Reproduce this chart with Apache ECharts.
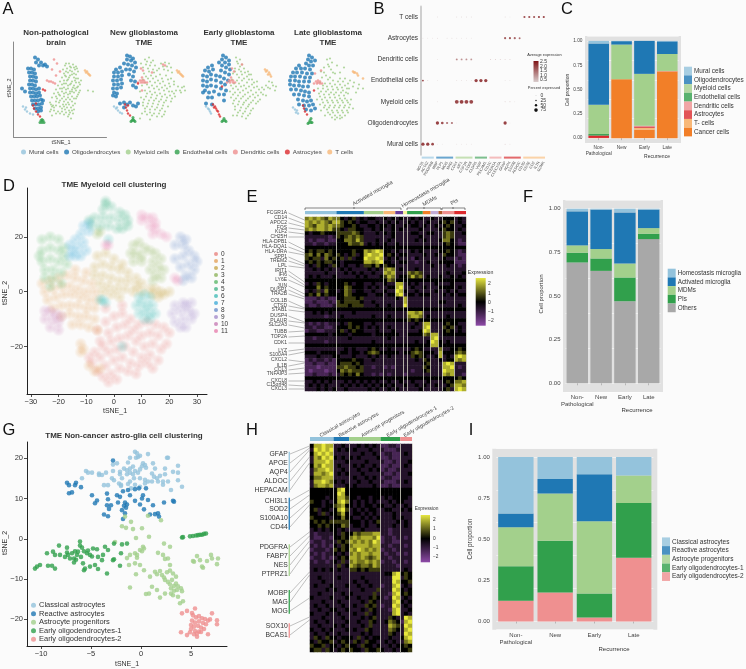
<!DOCTYPE html>
<html lang="en">
<head>
<meta charset="utf-8" />
<title>Glioblastoma TME figure</title>
<script src="https://cdn.jsdelivr.net/npm/echarts@6/dist/echarts.min.js"></script>
<style>body{margin:0;background:#fbfbfb}</style>
</head>
<body>
<div id="main" style="width:746px;height:669px;"></div>
<script>
// ---- panel A, tSNE cells per sample (flat x,y lists)
var cellNames = ['Mural cells','Oligodendrocytes','Myeloid cells','Endothelial cells','Dendritic cells','Astrocytes','T cells'];
var muralNP = [-37,-17,-35,-20,-33,-22,-30,-24,-27,-25,-34,-18];
var oligoNP = [-25,32,-22,30,-19,27,-24,27,-15,25,-13,23,-17,24,-21,24,-32,21,-29,21,-26,20,-31,17,-28,17,-25,16,-30,13,-27,13,-24,12,-30,9,-27,9,-24,8,-31,5,-28,5,-25,4,-30,1,-27,1,-24,0,-21,1,-30,-3,-27,-3,-24,-4,-21,-3,-29,-7,-26,-7,-23,-7,-20,-6,-28,-11,-25,-11,-22,-11,-19,-10,-17,-11,-27,-15,-24,-15,-21,-15,-18,-14,-25,-19,-22,-19,-19,-18,-22,-22,-19,-21,-38,1,-35,-2];
var myeloidNP = [5,24,9,26,13,25,16,23,3,20,7,21,11,22,15,20,18,18,4,16,8,17,12,18,16,15,2,12,6,13,10,14,14,12,18,11,21,9,0,8,4,9,8,10,12,8,16,7,20,5,-2,4,2,5,6,6,10,5,14,4,18,3,-4,0,0,1,4,2,8,1,12,0,16,-1,20,-1,-6,-4,-2,-3,2,-2,6,-3,10,-4,14,-3,18,-5,-8,-8,-4,-7,0,-6,4,-7,8,-8,12,-7,16,-9,-10,-13,-8,-17,-9,-15,-7,-16,-4,-12,0,-11,4,-12,8,-13,12,-12,15,-14,-9,-20,-4,-16,0,-17,4,-17,7,-18,11,-18,14,-20,-10,-22,-6,-21,-2,-22,2,-22,6,-23,10,-23,13,-24,-8,-26,8,-27,11,-29,28,-1,33,-2,
	6,26,10,23,14,22,17,21,6,18,10,19,14,16,5,14,9,12,12,15,16,11,7,9,11,6,15,9,19,7,4,6,8,4,13,2,17,2,2,1,6,0,10,-2,15,1,19,-3,-1,-5,4,-4,8,-5,12,-2,17,-7,-3,-9,2,-9,6,-10,10,-10,14,-9,-1,-13,3,-15,6,-15,9,-15,13,-16,-6,-18,2,-19,5,-20,9,-21,12,-21,-4,-24,0,-24,4,-25,9,-25];
var endoNP = [-18,-30,-20,-33,-18,-33,-16,-33,-19,-31,-17,-31];
var dendNP = [-13,9,-11,8,-9,8,-7,7,-5,6,-6,30,-3,26,-8,20,0,18,-4,14];
var astroNP = [-27,-16,-26,-19,-24,-22,-22,-25,-20,-27,-17,0,-15,-1,-24,-14];
var tNP = [25,19,27,18,28,16,29,15,30,14,26,17];

var muralNew = [-33,-17,-31,-19,-29,-21,-27,-23,-30,-18,-25,-24];
var oligoNew = [-20,34,-17,33,-14,31,-20,30,-16,29,-12,27,-23,26,-19,25,-15,24,-11,22,-27,22,-31,20,-33,17,-29,17,-25,18,-21,20,-17,20,-13,18,-33,13,-29,13,-25,14,-18,15,-14,13,-34,9,-30,9,-26,10,-16,9,-12,8,-33,5,-29,5,-25,6,-14,4,-11,2,-34,1,-30,1,-26,2,-33,-3,-30,-4,-34,-6,-31,-7,-27,-14,-23,-13,-20,-15,-17,-13,-14,-16,-11,-17,-23,-18,-9,-14];
var myeloidNew = [-2,30,2,32,6,29,-6,26,-1,25,3,24,8,24,14,26,18,27,22,26,12,21,17,20,21,19,25,17,-3,16,2,18,7,17,13,15,19,14,24,11,-4,10,1,11,6,11,11,9,16,8,22,6,27,5,31,3,35,2,38,-1,34,-3,29,-1,-5,4,0,5,5,4,10,3,15,2,20,1,25,-2,-7,-2,-2,-1,3,-2,8,-3,13,-4,18,-5,23,-6,28,-7,-6,-8,-1,-7,4,-8,9,-9,14,-10,19,-11,24,-12,-4,-13,1,-14,6,-14,11,-15,16,-16,21,-17,-2,-19,3,-20,8,-20,13,-21,18,-22,-5,-24,0,-25,5,-26,10,-27,15,-27,3,-30,-7,-29,
	0,28,4,27,-4,22,1,21,6,20,10,19,16,23,20,23,24,22,-1,13,4,14,9,13,15,11,21,10,27,8,-2,7,3,8,8,7,13,6,18,4,23,3,33,-1,37,3,2,2,7,1,12,0,17,-1,22,-2,27,-4,0,-4,5,-5,10,-6,15,-7,20,-8,25,-9,-3,-10,2,-11,7,-11,12,-12,17,-13,-4,-16,0,-17,5,-17,10,-18,15,-19,-2,-22,3,-23,7,-24,12,-24,17,-25];
var endoNew = [-14,-28,-15,-31,-13,-31,-12,-32,-16,-32,-14,-30];
var dendNew = [-5,12,-7,9,-5,9,-3,9,-9,7,-6,7,-4,7,-2,7,0,7,-4,19,-6,21,16,25,18,24,5,17,-5,-1];
var astroNew = [-22,-15,-21,-18,-20,-21,-19,-24,-17,-26,-19,-16,-9,6];
var tNew = [30,19,32,18,33,16,35,14,36,13,31,17,34,15];

var muralEarly = [-30,-17,-28,-19,-26,-22,-25,-24,-27,-20];
var oligoEarly = [-13,34,-10,32,-7,29,-14,30,-11,27,-7,25,-17,27,-14,24,-10,22,-6,20,-28,22,-24,24,-31,19,-27,18,-23,20,-15,19,-11,17,-7,15,-33,14,-29,13,-25,15,-20,14,-16,13,-12,11,-8,9,-33,9,-29,8,-25,10,-20,9,-15,7,-11,5,-33,4,-29,3,-25,4,-20,3,-15,1,-10,-1,-31,-1,-27,-3,-22,-2,-17,-5,-12,-5,-28,-8,-24,-8,-33,-3,-12,-11,-24,-15,-30,-14];
var myeloidEarly = [0,32,4,30,2,26,6,25,-1,21,3,20,8,21,12,18,15,15,-3,16,1,15,6,15,11,13,16,10,21,8,-4,10,1,9,6,9,11,7,16,5,21,3,26,2,30,4,33,8,36,7,40,3,34,1,39,-1,-5,4,0,3,5,3,10,1,15,-1,20,-3,25,-3,30,-6,-6,-2,-1,-3,4,-3,9,-5,14,-7,19,-8,24,-10,-5,-8,0,-9,5,-9,10,-11,15,-13,20,-14,-3,-14,2,-15,7,-15,12,-17,17,-19,-1,-20,4,-21,9,-22,14,-24,1,-26,6,-27,-3,-26,10,-29,
	1,28,4,23,5,18,9,17,13,15,-1,18,3,12,8,11,13,10,18,7,-2,6,3,6,8,4,13,3,18,2,23,0,28,0,32,2,37,4,-3,1,2,0,7,-1,12,-3,17,-5,22,-6,27,-5,-3,-5,2,-6,7,-7,12,-9,17,-11,22,-12,-2,-11,3,-12,8,-13,13,-15,-1,-17,5,-18,10,-19,15,-21,2,-23,7,-24,12,-26];
var endoEarly = [-12,-29,-13,-31,-11,-31,-10,-32,-14,-32];
var dendEarly = [-5,12,-7,9,-5,9,-3,9,-9,7,-6,7,-3,7,-1,7,6,25,-2,18,-4,21];
var astroEarly = [-23,-15,-21,-17,-20,-19,-18,-22,-17,-25,-16,-27,-22,-18,-19,-21,-14,3];
var tEarly = [29,20,31,19,33,17,32,15,35,13,30,18,34,15];

var muralLate = [-30,-18,-28,-20,-27,-23,-25,-24,-26,-21];
var oligoLate = [-14,34,-11,32,-15,30,-12,28,-8,29,-17,26,-14,24,-10,24,-24,24,-27,21,-22,21,-18,21,-13,20,-30,17,-26,17,-21,17,-16,16,-11,16,-32,13,-28,13,-23,13,-18,12,-13,12,-33,9,-28,9,-24,8,-19,8,-14,8,-33,5,-29,4,-24,4,-20,3,-15,3,-32,0,-27,0,-22,-1,-18,-2,-14,-3,-29,-5,-24,-5,-19,-6,-14,-7,-25,-10,-20,-11,-16,-12,-12,-11,-24,-15,-19,-16,-14,-16,-10,-15,-17,-20,-12,-21,-8,-19];
var myeloidLate = [4,30,7,31,9,27,5,25,1,22,-2,18,8,20,14,24,17,17,21,22,12,16,3,14,-1,12,7,12,17,11,22,11,27,9,31,7,36,5,40,1,35,1,30,3,-3,7,2,6,7,6,12,5,17,5,22,4,26,1,-5,1,0,1,5,0,10,0,15,0,20,-1,25,-4,33,-3,-4,-4,1,-5,6,-5,11,-5,16,-6,21,-6,-6,-10,-1,-10,4,-11,9,-11,14,-11,19,-11,24,-11,28,-10,-3,-15,2,-16,7,-16,12,-16,17,-16,22,-16,27,-15,-2,-21,4,-20,9,-21,14,-21,19,-21,24,-21,30,-19,2,-26,7,-25,12,-26,17,-26,22,-26,12,-30,17,-29,
	6,23,10,17,1,17,5,10,10,9,15,8,20,8,25,6,0,4,4,3,9,3,14,2,19,2,24,1,-2,-2,3,-2,8,-3,13,-3,18,-3,23,-3,-3,-7,2,-8,7,-8,12,-8,17,-9,22,-9,0,-13,5,-13,10,-13,15,-13,20,-13,25,-13,1,-18,6,-18,11,-18,16,-18,21,-18,26,-18,5,-23,10,-23,15,-23,20,-23,25,-23,9,-28,14,-28,19,-28];
var endoLate = [-13,-31,-14,-33,-12,-33,-11,-33,-15,-34,-12,-29];
var dendLate = [-5,9,-7,8,-5,7,-3,8,-9,6,-6,6,-3,6,-1,6,-8,16,-2,19];
var astroLate = [-20,-16,-19,-19,-18,-22,-16,-25,-9,-1];
var tLate = [30,18,32,17,34,16,35,14,40,11,31,17];

// ---- panel B, dot plot
var dotCells = ['Mural cells','Oligodendrocytes','Myeloid cells','Endothelial cells','Dendritic cells','Astrocytes','T cells'];
var dotGenes = ['RGS5','ACTA2','PDGFRB','MBP','PLP1','MOG','MAG','CD14','AIF1','CSF1R','CD68','CLDN5','VWF','PECAM1','CD1C','FCER1A','CLEC10A','GFAP','AQP4','S100B','ALDOC','CD3D','CD3E','CD2','IL7R','GZMK'];
// gene index, cell index, average expression, percent expressed
var dotStrong = [[21,6,2.3,30],[22,6,2.3,30],[23,6,2.2,30],[24,6,2.5,30],[25,6,2.5,30],[17,5,2.1,30],[18,5,2.2,30],[19,5,2,30],[20,5,1.9,25],[7,4,1.5,25],[8,4,1.4,25],[9,4,1.4,25],[10,4,1.3,25],[0,3,2.4,25],[11,3,2.5,50],[12,3,2.5,50],[13,3,2.5,50],[7,2,2.4,60],[8,2,2.5,60],[9,2,2.4,60],[10,2,2.4,60],[3,1,2.5,50],[4,1,2.3,40],[5,1,1.9,30],[6,1,1.8,30],[17,1,2.5,50],[0,0,2.5,50],[1,0,2.5,50],[2,0,2.4,40]];
var dotFaint = [[3,6,.6,5],[7,6,.7,5],[8,6,.7,5],[9,6,.7,5],[10,6,.7,5],[17,6,.7,5],[18,6,.6,4],[0,5,.6,4],[1,5,.6,4],[2,5,.6,4],[3,5,.8,6],[5,5,.7,6],[6,5,.8,6],[7,5,.6,5],[8,5,.6,5],[9,5,.6,4],[10,5,.6,4],[3,4,.6,5],[14,4,1.1,8],[15,4,1.1,8],[16,4,1,8],[17,4,.9,8],[18,4,.9,8],[1,3,.8,8],[3,3,.6,5],[7,3,.7,6],[8,3,.7,6],[9,3,.7,6],[10,3,.7,6],[17,3,.6,5],[18,3,.6,5],[3,2,.7,6],[17,2,.8,8],[18,2,.8,8],[19,2,.5,4],[18,1,.5,4],[7,1,.5,4],[7,0,.6,4],[8,0,.6,4],[9,0,.6,4],[10,0,.6,4],[17,0,.8,8],[18,0,.6,4],[3,0,.5,4],[4,0,.5,4]];
var dotGroups = [3,4,4,3,3,4,5];
var dotAvgTicks = ['2.5','2.0','1.5','1.0','0.5'];
var dotPctTicks = ['0','25','50','75'];

// ---- panel C
var barCats = ['Non-\nPathological','New','Early','Late'];
var cNames = ['Mural cells','Oligodendrocytes','Myeloid cells','Endothelial cells','Dendritic cells','Astrocytes','T- cells','Cancer cells'];
var cMural = [.027,.003,0,.005];
var cOligo = [.631,.035,.339,.13];
var cMyeloid = [.3,.356,.534,.174];
var cEndo = [.015,0,0,.001];
var cDend = [0,0,.008,.002];
var cAstro = [.025,0,.012,.001];
var cT = [0,0,.02,.002];
var cCancer = [.002,.606,.087,.685];

// ---- panel D, tSNE of myeloid cells
var dClusters = ['0','1','2','3','4','5','6','7','8','9','10','11'];
var d0 = [-6,-14,-3,-11,0,-9,3,-8,6,-10,9,-12,12,-11,15,-12,18,-13,20,-15,-5,-18,-2,-15,1,-13,4,-12,7,-14,10,-16,13,-15,16,-16,19,-19,-7,-22,-4,-20,-1,-18,2,-17,5,-16,8,-18,11,-20,14,-19,17,-21,-8,-26,-5,-24,-2,-22,1,-21,4,-20,7,-22,10,-24,13,-23,16,-25,-6,-29,-3,-27,0,-25,3,-24,6,-26,9,-27,12,-26,14,-28,-4,-31,-1,-30,2,-28,5,-29,8,-30,-2,-33,1,-32,-9,-24,-3,-6,3,-5];
var d1 = [-26,3,-23,4,-20,5,-17,6,-14,5,-11,4,-8,3,-25,0,-22,1,-19,2,-16,2,-13,1,-10,0,-7,0,-24,-3,-21,-2,-18,-1,-15,-1,-12,-2,-9,-3,-6,-3,-22,-6,-19,-5,-16,-5,-13,-5,-10,-6,-7,-6,-19,-9,-16,-8,-13,-9,-10,-9,-7,-10,-15,-12,-12,-12,-9,-13,-6,-14,-12,-19,-12,-22,-11,-21,-7,-29,-9,-27,-5,-28,-14,8,-10,7];
var d2 = [-6,13,-3,14,0,12,3,10,-7,9,-4,10,-1,9,2,8,5,7,8,5,-7,6,-4,6,-1,5,2,4,5,4,8,2,10,3,-5,3,-2,2,1,1,4,1,7,0,10,0,13,1,-4,0,-1,-1,2,-2,15,1,17,0,18,-1,20,0,16,-2,14,-1];
var d3 = [7,17,9,18,11,16,6,14,8,14,10,13,7,11,10,11,13,15,15,14,17,12,14,11,16,9,13,8,15,6,17,5,14,4,-5,22,-6,21,18,8];
var d4 = [-26,19,-23,20,-20,19,-26,15,-23,16,-20,15,-18,13,-26,11,-23,12,-20,11,-17,10,-25,8,-22,8,-19,7,-25,5,-22,5,-19,3,-23,2,-27,13,-18,16];
var d5 = [-3,33,-4,30,-1,31,2,29,4,28,-7,27,-4,27,-1,27,2,26,5,26,-8,24,-5,24,-2,24,1,23,3,23,5,24,-3,32,-9,26];
var d6 = [9,-2,11,-1,13,-2,8,-5,10,-4,12,-5,14,-5,9,-8,11,-7,13,-8,15,-8,11,-10,13,-10,-4,-3,-3,-4,-5,-3,-2,19,3,-20];
var d7 = [-16,17,-14,19,-12,21,-11,24,-15,15,-13,16,-11,18,-14,13,-12,13,-9,25,-16,13,-10,15,-9,22];
var d8 = [24,20,26,19,25,17,22,17,27,15,29,13,25,13,30,11,27,10,24,9,29,8,26,6,28,5,22,12,25,4];
var d9 = [22,-5,25,-4,28,-4,21,-8,24,-7,27,-7,29,-8,22,-11,25,-10,28,-10,24,-13,26,-13,26,-5];
var d10 = [-25,-7,-23,-7,-21,-8,-25,-10,-22,-10,-20,-11,-23,-13,-20,-14,-19,-9];
var d11 = [10,28,12,27,14,27,13,24,15,23,14,21,17,21,19,20,15,25,10,26,-2,17,-3,17,22,5,23,4];

// ---- panel E, expression levels, one digit per cell, 0..8 = -2..2
var eGroups = [8,7,5,3,2,1,4,2,2,1,3,3];
var eRows = [
'67676576 6434534 34433 434 34 3 3434 33 43 3 444 343',
'76767657 7545434 43343 343 43 3 4343 34 33 4 545 343',
'76577676 6544543 34434 434 33 4 3443 43 34 3 454 334',
'67677675 5435544 33434 334 34 3 3334 33 33 4 544 343',
'43445444 5555654 33343 434 33 3 3443 34 43 3 565 334',
'33333323 5456565 33333 334 33 3 3334 33 33 3 565 333',
'32322322 4466575 33343 343 33 3 3343 43 33 4 664 323',
'33233233 4446556 34343 433 43 3 3333 33 33 3 454 322',
'44444444 4444444 44444 444 44 4 4444 44 44 4 444 444',
'45455454 4444544 76787 443 43 3 3434 33 33 4 454 323',
'56464654 5434534 78778 454 34 4 3333 43 34 3 544 322',
'54553645 4535344 87787 343 43 3 3243 33 33 3 433 232',
'45454554 4344444 77678 443 34 4 3323 34 33 4 444 222',
'34354435 4343343 55464 544 33 3 3333 33 43 3 343 323',
'33434343 3434333 34343 676 34 3 3343 33 33 3 333 333',
'33333433 3343434 33433 767 33 3 6565 33 33 3 343 334',
'34343334 3333343 43334 576 34 4 5756 34 33 4 334 343',
'44444444 4444444 44444 465 44 4 4444 44 44 4 444 444',
'34354344 4454344 33433 433 77 3 4343 33 34 3 334 333',
'44464544 4465444 34343 344 78 3 3433 43 33 4 444 343',
'34353644 3465344 33433 433 87 4 3343 33 34 3 343 433',
'45464544 4465444 43344 344 78 3 4434 44 33 3 434 344',
'22232322 4455545 33333 333 43 7 3333 33 33 3 333 333',
'22322232 5455554 33433 333 33 7 3333 33 33 4 433 333',
'32232223 5554555 33343 343 33 8 3333 33 33 3 333 343',
'44444444 4444444 44444 444 44 4 4444 44 44 4 444 444',
'33434343 3333433 33333 333 33 3 7767 33 33 3 333 333',
'33333233 3433333 33433 343 33 3 6776 34 33 3 343 333',
'44444444 4444444 44444 444 44 4 5454 44 44 4 444 444',
'32323233 3435444 33433 333 33 3 3343 77 33 3 454 433',
'33233223 4445454 34343 343 33 3 3433 78 33 3 545 343',
'23322333 4534544 33343 334 33 3 3334 87 33 3 454 343',
'44444434 4443444 44344 444 43 3 4444 65 77 3 444 444',
'33233333 3334333 33333 343 33 3 3333 33 78 3 333 333',
'33333233 3333333 33433 333 33 3 3343 34 87 4 343 333',
'44444444 4444444 44444 444 44 4 4444 44 77 4 444 444',
'33333333 3343433 34543 343 33 3 3454 33 33 6 334 454',
'44434444 3443443 45654 444 43 4 4565 44 43 7 444 565',
'33343334 4333433 34343 343 33 3 3545 43 34 7 343 787',
'23233232 4444544 33433 333 33 3 3343 54 33 4 344 767',
'22322322 4555454 33333 333 33 3 3333 45 33 3 787 333',
'22212222 5565545 33233 232 33 3 3333 54 33 3 778 323',
'21222122 4656555 33333 333 33 3 3233 45 33 3 877 333',
'22322232 3545464 33232 323 33 2 3333 33 33 3 767 332',
'44444444 4444444 44444 444 44 4 4444 44 44 4 444 454',
'33434343 3343434 34343 343 34 3 3433 34 33 3 454 667',
'34343433 3434343 43434 434 33 4 3343 43 34 3 345 776',
'33343434 3343333 34343 343 43 3 3334 33 33 3 453 787'];
var eGeneLabels = [['FCGR1A',38,45],['CD14',43,49],['APOC2',48,52],['FOS',53,55],['KLF2',57,59],['CH25H',62,62],['HLA-DPB1',67,75],['HLA-DQA1',72,78],['HLA-DRA',77,80],['SPP1',82,89],['TREM2',86,91],['LPL',91,93],['IRIT1',96,107],['IFI6',100,110],['LY6E',105,112],['JUN',111,119],['DUSP1',115,122],['TRA2B',119,124],['COL1B',126,133],['CTSD',131,134],['STAB1',135,137],['DUSP4',141,147],['PLAUR',146,148],['SLC2A3',150,153],['TUBB',157,156],['TOP2A',162,161],['CDK1',168,168],['LYZ',176,174],['S100A4',180,177],['CXCL2',185,187],['IL1B',191,188],['CCL3',195,193],['TNFAIP3',199,198],['CXCL8',206,206],['C15orf48',210,211],['CXCL3',214,214]];

// ---- panel F
var fNames = ['Homeostasis microglia','Activated microglia','MDMs','PIs','Others'];
var fHomeo = [.015,.005,.021,.005];
var fActivated = [.195,.226,.293,.106];
var fMDM = [.042,.054,.08,.032];
var fPI = [.056,.071,.136,.031];
var fOthers = [.692,.644,.47,.826];

// ---- panel G, tSNE of non-cancer astro-glia
var gNames = ['Classical astrocytes','Reactive astrocytes','Astrocyte progenitors','Early oligodendrocytes-1','Early oligodendrocytes-2'];
var gClassical = [-.6,21.6,-.4,21.2,-.1,20.6,.7,21,-1.1,20.1,-.3,20.3,-1.3,18.9,-.8,17.9,.2,18.7,.4,18.3,1.2,18.7,2.7,20.1,2.6,20.1,3.7,18.1,2.4,17.4,3.2,16.6,3.7,16.4,3.7,14.5,4.1,12.9,3,12.1,-5.5,16.8,-5.3,16.4,-4.9,16.4,-5.9,15,-4.2,16.2,-3.9,15.8,-3.5,16.4,-4.2,15.8,-2.8,16.8,-2.4,18.7,-1.7,17.4,-2.1,16.6,-2.9,15,-2.7,14.5,-3.7,13.3,-3.3,13.3,-2.2,13.7,-2,13.1,-1.4,16,-1.1,16.4,-.6,16.8,-.3,16.4,-.1,17.2,.5,17.6,-.7,15,-.1,15,.4,14.6,-1.3,13.6,-.6,13.4,-.1,12.9,.4,13.7,1.1,16.2,1.3,15.4,1.6,15,1.7,14.2,2.2,13.4,1.1,14.2,1.4,17.4,1.9,15.6,2.2,14.2,2.7,14.2,2.4,16,.7,14.2,-1.1,14.2,-1.9,15,-2.1,16,-.8,16,-1.4,17,-1.1,17.4,.1,18,-.5,20.1,-2.8,18.4,-2,13.4,-1,12.5];
var gReactive = [-2.8,19.4,-7.4,13.9,-7.2,13.3,-6.5,13.9,-6.6,13.3,-6,12.8,-7.2,11.3,-6.9,11.5,-4.9,10.8,-4.4,9.5,-4.6,8.8,-3.4,11.2,-3.3,9.8,-3.4,8.3,-3,8.3,-3.2,7.4,-3.7,6,-3.3,5.6,-2.3,9,-2.4,10.8,-1.8,11.8,-1.3,12.1,-.6,12.3,-.2,12.5,.5,12.5,-2.1,10.4,-1.1,10.8,-1.6,9,-1.4,8.5,-1.7,8.2,-1.5,7.7,-1.9,7.1,-.6,9.4,-.1,8.5,.2,10.8,.1,10,.7,9.6,1.2,8.3,.3,7.3,.9,6,1.4,6.1,1.7,6.3,1.8,5.5,2.3,9,3.2,9.4,3.3,9.2,-1.6,6.3,-1.8,4.9];
var gProgenitors = [-1.6,5.5,-1,4.2,-1.9,3.1,-1.5,2.7,-.8,2.4,.1,2.6,.7,5.7,2,4.6,.8,.5,-.5,.2,2.3,-1.2,2.9,-2,.2,-2,.3,-2.4,-.1,-2.8,.1,-3.1,-.6,-3.6,-.4,-4,-1.1,-4,-.4,-4.7,-.6,-6.1,-1.2,-6.5,-.1,-6.5,1.7,-3.5,2.2,-4,2.7,-4.9,2.4,-5,-.5,-8.8,-1.1,-12.1,.3,-7.8,.9,-9.4,1.4,-8.2,1.6,-8.8,1.9,-8,2.1,-9,2.3,-9.6,2.6,-8.3,2.9,-7.9,3.2,-8.6,3.5,-9.4,2.4,-10.2,2.7,-10.7,2.9,-11.3,3.1,-10.2,3.3,-11.7,3.5,-11.1,3.7,-11.8,3,-12.3,3.3,-12.9,3.6,-12.7,4,-12.3,4.1,-13,3,-13.6,3.2,-14,.5,-13.7,.8,-13.6,1.1,-11.9,1.6,-12.7,1.9,-14.6,2.4,-13.6,3.7,-14.4,4.2,-15.5,3.9,-16,5.2,-5.5,5.6,-4.3,5.3,-5.7,5.9,-5.3,6.6,-5.5,7,-4,7.1,-4.9,7.6,-6.3,7.7,-4.9,6.2,-7.2,6.1,-6.9,-2.6,-.8,-1.4,-4.8,2.9,-6.5];
var gEarly1 = [4.1,.3,4.2,.4,4.9,.6,5.2,.7,5.5,.8,5.7,.9,5.9,1,6.1,1,6.3,1.2,6.5,1.3,-10.6,-7.4,-10.4,-6.9,-10.1,-6.5,-9.3,-6.7,-8.9,-6.7,-8.6,-7.4,-9.4,-3.6,-8.8,-3.2,-8.6,-4,-8.2,-1.7,-8.1,-4,-7.4,-2.2,-7.4,-3.4,-7.3,-4,-7.1,-4.9,-6.7,-4.9,-6.7,-5.9,-6.4,-4,-6.1,-.7,-6.1,-1.7,-6.3,-3.2,-6,-4.5,-5.8,-6.1,-5.7,-7.8,-5.6,-7.4,-5.1,-6.9,-4.6,-6.5,-4.3,-7.5,-5.4,-3.6,-5.1,-4,-4.8,-2.4,-4.4,-2.6,-4.3,-4.5,-3.8,-4,-3.9,-5.3,-3.4,-8.6,-3.6,-2,-3.3,-2.8,-2.7,-1.2,-2.8,-5.3,-2.7,-5.1,-2,-3.6,-2.1,-6.7,-1.9,-1.4,-1.4,-1.2,-6.9,-3.6,-6.6,-3.1,-7.6,-4.5,-5.7,-3.1,-5.9,-2.2,-5.3,-2.9,-4.9,-4.4,-6.5,-5.2];
var gEarly2 = [4.1,-18.5,4.6,-17.9,5.4,-17.3,5.1,-18.4,7.1,-18.5,7.6,-20.2,7.6,-21.2,6.7,-23.7,4,-23.2,4.6,-23.9,5.6,-24.3,5.2,-19,5.5,-19.5,5.8,-19.2,6.1,-19.7,6.4,-19.9,6.7,-20.3,6.9,-20,5.1,-20.3,5.4,-20.8,5.8,-20.5,6.2,-20.9,6.5,-21.2,5,-21.4,5.3,-21.8,5.7,-21.6,6,-22,6.3,-22.4,5,-22.4,5.4,-22.9,5.8,-23,6,-23.1,4.9,-23.2,5.3,-23.7,5.6,-23.5];

// ---- panel H, expression levels
var hGroups = [6,4,8,5,3];
var hRows = [
'477877 3343 33434343 22332 333','387878 3434 34333433 32223 333','478787 3333 33343343 23322 343','376878 4343 43433334 22322 333',
'377787 3334 33334333 32232 334','476877 3433 34343343 22322 343','367787 3343 33433434 23223 333','377678 3434 33343333 32232 334',
'466777 3333 34334343 23322 333','377876 4343 33433433 32223 343','367767 3334 34333343 22322 333','444444 4784 44444444 44444 444',
'444444 4874 44444444 44444 444','444434 4775 44344344 34344 443','544343 4786 43434343 33434 433','444344 5674 43434434 43343 343',
'453443 4785 34343443 34433 434','443534 4574 34434343 33343 333','544443 4464 43343434 33343 433','454545 5555 44434345 33334 343',
'445454 4465 34434334 33343 343','343434 4343 33343333 33233 333','323333 4354 46566677 33233 333','322332 4454 67677768 23323 323',
'233233 3545 76767687 23322 333','323232 4354 67777677 33233 323','233323 5454 76876767 23323 333','323233 4343 67677677 32332 323',
'233232 3454 77676567 33233 333','323323 4353 67667676 23323 323','333333 3534 76566576 33332 333','343434 3433 55454555 33333 343',
'333333 3333 33333333 34478 454','334333 3433 33343333 33388 354','333433 3333 34334333 33387 445','343334 3334 33433433 23378 343',
'333343 4333 33343335 33387 434','334333 3343 43333353 33278 454','433334 3334 33433454 32387 343','333433 3433 33343543 33378 434',
'343343 3343 34335453 23387 343','334334 4334 33343543 33278 334','433343 3433 34335343 33378 343','333433 3343 33343453 33543 387',
'343343 3334 33433543 34654 278','334333 4343 33343533 33765 387','433434 3334 34335433 33654 378','343343 3433 33343433 33543 387',
'354354 4344 43534344 33433 478','435445 3454 35435443 34343 367','544534 4345 44354434 33434 454','455354 3454 54435445 43343 445'];
var hGeneLabels = [['GFAP',39,31],['APOE',48,33],['AQP4',57,35],['ALDOC',66,42],['HEPACAM',75,48],['CHI3L1',86,75],['SOD2',94,80],['S100A10',103,86],['CD44',112,90],['PDGFRA',132,117],['FABP7',141,121],['NES',150,126],['PTPRZ1',159,132],['MOBP',178,157],['MAG',187,160],['MOG',196,183],['SOX10',211,202],['BCAS1',220,205]];

// ---- panel I
var iClassical = [.344,.134,.105,.113];
var iReactive = [.083,.089,.286,0];
var iProgenitors = [.237,.287,.439,.167];
var iEarly1 = [.21,.314,.146,.333];
var iEarly2 = [.126,.176,.024,.387];

// colours
var cellColors = ['#94c3dc','#1f78b4','#a3d08c','#31a04c','#ef9090','#dc2a2e','#f8b878'];
var cColors = ['#94c3dc','#1f78b4','#a3d08c','#31a04c','#ef9090','#dc2a2e','#f8b878','#f27f28'];
var dColors = ['#e8837f','#e3a35d','#c8a84c','#8fb45c','#5cb86a','#46b58a','#45bdb8','#42acd8','#6c8ec9','#a48ccb','#c77db5','#e77fae'];
var eColors = ['#94c3dc','#1f78b4','#a3d08c','#f8b878','#6a3d9a','#f7f29a','#31a04c','#f27f28','#c2add6','#b15928','#ef9090','#dc2a2e'];
var fColors = ['#94c3dc','#1f78b4','#a3d08c','#31a04c','#a8a8a8'];
var gColors = ['#94c3dc','#1f78b4','#a3d08c','#31a04c','#ef9090'];
var FONT = '"Liberation Sans", Arial, sans-serif';
var TXT = '#333';

var grid = [], xAxis = [], yAxis = [], series = [], legend = [], graphic = [];

function pairs(a) { var r = []; for (var i = 0; i < a.length; i += 2) r.push([a[i], a[i + 1]]); return r; }
function addGrid(l, t, w, h, x, y, extra) {
	grid.push(Object.assign({ left: l, top: t, width: w, height: h, containLabel: false }, extra || {}));
	var k = grid.length - 1;
	xAxis.push(Object.assign({ gridIndex: k }, x));
	yAxis.push(Object.assign({ gridIndex: k }, y));
	return k;
}
function txt(x, y, s, size, o) {
	o = o || {};
	graphic.push({ type: 'text', silent: true, x: x, y: y, rotation: o.rot || 0, z: 20,
		style: { text: s, fontSize: size, fontFamily: FONT, fontWeight: o.bold ? 'bold' : 'normal', fill: o.color || TXT,
			align: o.align || 'center', verticalAlign: 'middle' } });
}
function seg(x1, y1, x2, y2, color, w) {
	graphic.push({ type: 'line', silent: true, z: 19, shape: { x1: x1, y1: y1, x2: x2, y2: y2 }, style: { stroke: color, lineWidth: w } });
}
function box(x, y, w, h, fill) {
	graphic.push({ type: 'rect', silent: true, z: 19, shape: { x: x, y: y, width: w, height: h }, style: { fill: fill } });
}
var HIDDEN = { show: false };

function tsneAxis(minV, maxV, vals, size) {
	return { type: 'value', min: minV, max: maxV,
		axisLine: { show: true, onZero: false, lineStyle: { color: '#222', width: 1 } },
		axisTick: { show: true, length: 3, customValues: vals, lineStyle: { color: '#222', width: .8 } },
		axisLabel: { customValues: vals, fontSize: size, color: '#333', margin: 4, fontFamily: FONT, formatter: function (v) { return String(v).replace('-', '\u2212'); } },
		splitLine: HIDDEN };
}

// panel A
var aPanels = [
	[muralNP, oligoNP, myeloidNP, endoNP, dendNP, astroNP, tNP],
	[muralNew, oligoNew, myeloidNew, endoNew, dendNew, astroNew, tNew],
	[muralEarly, oligoEarly, myeloidEarly, endoEarly, dendEarly, astroEarly, tEarly],
	[muralLate, oligoLate, myeloidLate, endoLate, dendLate, astroLate, tLate]
];
var aSize = [2.4, 4, 2.2, 3, 2.6, 2.4, 2.6];
aPanels.forEach(function (lists, p) {
	var offs = [0, 87, 176, 263];
	var line = p === 0 ? { show: true, onZero: false, lineStyle: { color: '#8a8a8a', width: 1 } } : HIDDEN;
	var k = addGrid(13.5 + offs[p], 42, 93, 95,
		{ type: 'value', min: -46.5, max: 46.5, axisLine: line, axisTick: HIDDEN, axisLabel: HIDDEN, splitLine: HIDDEN },
		{ type: 'value', min: -47.5, max: 47.5, axisLine: line, axisTick: HIDDEN, axisLabel: HIDDEN, splitLine: HIDDEN });
	lists.forEach(function (l, c) {
		series.push({ type: 'scatter', name: cellNames[c], xAxisIndex: k, yAxisIndex: k, symbolSize: aSize[c], silent: true,
			itemStyle: { color: cellColors[c] }, data: pairs(l), z: c === 2 ? 2 : 3 });
	});
});
legend.push({ data: cellNames, orient: 'horizontal', left: 21, top: 149, icon: 'circle', itemWidth: 5, itemHeight: 5, itemGap: 5.5,
	selectedMode: false, padding: 0, textStyle: { fontSize: 6.2, color: '#444', fontFamily: FONT, padding: [0, 0, 0, -2] } });
txt(56, 33, 'Non-pathological', 8, { bold: true }); txt(56, 43, 'brain', 8, { bold: true });
txt(144, 33, 'New glioblastoma', 8, { bold: true }); txt(144, 43, 'TME', 8, { bold: true });
txt(239, 33, 'Early glioblastoma', 8, { bold: true }); txt(239, 43, 'TME', 8, { bold: true });
txt(328, 33, 'Late glioblastoma', 8, { bold: true }); txt(328, 43, 'TME', 8, { bold: true });
txt(9, 88, 'tSNE_2', 5.5, { rot: Math.PI / 2 }); txt(61, 142, 'tSNE_1', 5.5);

// panel B
var bGrid = addGrid(420.5, 6.4, 125.7, 148.4,
	{ type: 'category', data: dotGenes, axisLine: HIDDEN, axisTick: HIDDEN, splitLine: HIDDEN,
		axisLabel: { interval: 0, rotate: 60, fontSize: 3.8, margin: 7, color: '#555', fontFamily: FONT } },
	{ type: 'category', data: dotCells, axisTick: { show: false }, splitLine: HIDDEN,
		axisLine: { show: true, lineStyle: { color: '#cfcfcf', width: 2 } },
		axisLabel: { fontSize: 6.5, color: '#333', margin: 2.5, fontFamily: FONT } });
var dotSeries = series.length;
series.push({ type: 'scatter', xAxisIndex: bGrid, yAxisIndex: bGrid, silent: true, data: dotStrong.concat(dotFaint),
	symbolSize: function (d) { return .5 + d[3] / 18; } });
legendStrip(420.5, 156.6, 125.7, 2, dotGroups, ['#b8d8ea','#6aa6cf','#c5e0b4','#7dbf8e','#f4bcbc','#e36a6c','#fbd3a8'], .25);
function legendStrip(l, t, w, h, groups, colors, inset) {
	var n = groups.reduce(function (a, b) { return a + b; }, 0), pos = 0, rows = [];
	groups.forEach(function (g, i) { rows.push([pos + inset, pos + g - inset, i]); pos += g; });
	var k = addGrid(l, t, w, h, { type: 'value', min: 0, max: n, show: false }, { type: 'value', min: 0, max: 1, show: false });
	series.push({ type: 'custom', xAxisIndex: k, yAxisIndex: k, silent: true, data: rows,
		encode: { x: [0, 1] },
		renderItem: function (params, api) {
			var a = api.coord([api.value(0), 1]), b = api.coord([api.value(1), 0]);
			return { type: 'rect', shape: { x: a[0], y: a[1], width: b[0] - a[0], height: b[1] - a[1] }, style: { fill: colors[api.value(2)] } };
		} });
}
txt(544.5, 55, 'Average expression', 3.9);
graphic.push({ type: 'rect', silent: true, z: 19, shape: { x: 533.5, y: 61, width: 5, height: 21 },
	style: { fill: new echarts.graphic.LinearGradient(0, 0, 0, 1, [{ offset: 0, color: '#7f1416' }, { offset: 1, color: '#d8cccc' }]) } });
dotAvgTicks.forEach(function (s, i) { txt(540, 61.7 + i * 4.6, s, 5, { align: 'left' }); });
txt(544, 88, 'Percent expressed', 3.9);
dotPctTicks.forEach(function (s, i) {
	txt(540.5, 95.7 + i * 4.8, s, 5, { align: 'left' });
	graphic.push({ type: 'circle', silent: true, z: 19, shape: { cx: 536, cy: 95.7 + i * 4.8, r: [.2, .7, 1.2, 1.8][i] }, style: { fill: '#111' } });
});

// stacked proportion bars, grey panel is wider than the four category bands
function propBars(l, t, w, h, names, columns, colors, fs) {
	var vals = [0, .25, .5, .75, 1], band = w / 4.2, shift = band * .1;
	addGrid(l, t, w, h, { type: 'value', show: false }, { type: 'value', show: false }, { show: true, backgroundColor: '#e1e1e1', borderWidth: 0 });
	var k = addGrid(l + shift, t, band * 4, h,
		{ type: 'category', data: barCats, axisLine: HIDDEN,
			axisTick: { show: true, alignWithLabel: true, length: 2, lineStyle: { color: '#888', width: .5 } },
			axisLabel: { interval: 0, fontSize: fs, color: '#444', margin: 1.5, lineHeight: fs + 1.5, fontFamily: FONT },
			splitLine: HIDDEN },
		{ type: 'value', min: -.05, max: 1.05, axisLine: HIDDEN,
			axisTick: { show: false },
			axisLabel: { customValues: vals, fontSize: fs, color: '#444', margin: 2.5 + shift, fontFamily: FONT, formatter: function (v) { return v.toFixed(2); } },
			splitLine: { show: true, customValues: vals, lineStyle: { color: '#fff', width: .5 } } });
	for (var s = names.length - 1; s >= 0; s--) {
		series.push({ type: 'bar', name: names[s], xAxisIndex: k, yAxisIndex: k, stack: 'p' + k, silent: true, barWidth: band * .9,
			itemStyle: { color: colors[s] }, data: columns[s] });
	}
}
function propLegend(l, t, names, size) {
	legend.push({ data: names, orient: 'vertical', left: l, top: t, icon: 'rect', itemWidth: 8, itemHeight: 8.7, itemGap: .01, padding: 0, selectedMode: false,
		textStyle: { fontSize: size, color: '#333', fontFamily: FONT, padding: [0, 0, 0, -3] } });
}
propBars(585, 36, 96, 107, cNames, [cMural, cOligo, cMyeloid, cEndo, cDend, cAstro, cT, cCancer], cColors, 4.8);
propLegend(684, 66.7, cNames, 6.4);
txt(568, 90, 'Cell proportion', 5, { rot: Math.PI / 2 });
txt(657, 157, 'Recurrence', 5);

// panel D, soft dots so the clusters read as clouds
var dk = addGrid(27, 188, 180, 206, tsneAxis(-31.4, 33.6, [-30, -20, -10, 0, 10, 20, 30], 7.5), tsneAxis(-37.3, 37.8, [-20, 0, 20], 7.5));
[d0, d1, d2, d3, d4, d5, d6, d7, d8, d9, d10, d11].forEach(function (l, c) {
	series.push({ type: 'scatter', name: dClusters[c], xAxisIndex: dk, yAxisIndex: dk, silent: true, symbolSize: 13,
		itemStyle: { color: new echarts.graphic.RadialGradient(.5, .5, .5, [{ offset: 0, color: dColors[c] + '66' }, { offset: .55, color: dColors[c] + '3a' }, { offset: 1, color: dColors[c] + '00' }]) },
		data: pairs(l) });
});
legend.push({ data: dClusters.map(function (n, c) { return { name: n, itemStyle: { color: dColors[c] } }; }),
	orient: 'vertical', left: 214, top: 250.5, icon: 'circle', itemWidth: 4, itemHeight: 4, itemGap: .01, padding: 0, selectedMode: false,
	textStyle: { fontSize: 6.5, height: 7, lineHeight: 7, color: '#333', fontFamily: FONT, padding: [0, 0, 0, -2] } });
txt(114, 185, 'TME Myeloid cell clustering', 8, { bold: true });
txt(115, 411, 'tSNE_1', 7); txt(5, 293, 'tSNE_2', 7, { rot: Math.PI / 2 });

// heatmaps
function heat(l, t, w, h, rows, seps) {
	var cells = [], cols = [], rowIds = [];
	rows.forEach(function (r, y) {
		rowIds.push(y);
		r.replace(/ /g, '').split('').forEach(function (d, x) { cells.push([x, y, (Number(d) - 4) / 2]); if (y === 0) cols.push(x); });
	});
	var k = addGrid(l, t, w, h,
		{ type: 'category', data: cols, z: 10, axisLine: HIDDEN, axisTick: HIDDEN, axisLabel: HIDDEN,
			splitLine: { show: true, interval: function (i) { return seps.indexOf(i) >= 0; }, lineStyle: { color: '#d8d8c8', width: .8 } } },
		{ type: 'category', data: rowIds, inverse: true, axisLine: HIDDEN, axisTick: HIDDEN, axisLabel: HIDDEN, splitLine: HIDDEN });
	series.push({ type: 'heatmap', xAxisIndex: k, yAxisIndex: k, silent: true, data: cells, progressive: 0 });
	return series.length - 1;
}
function exprBar(x, y, w, h) {
	graphic.push({ type: 'rect', silent: true, z: 19, shape: { x: x, y: y, width: w, height: h },
		style: { fill: new echarts.graphic.LinearGradient(0, 0, 0, 1, [{ offset: 0, color: '#e6e640' }, { offset: .5, color: '#000' }, { offset: 1, color: '#8e4aa8' }]) } });
}
var exprTicks = ['2', '1', '0', '\u22121', '\u22122'];
var eSeps = [8, 20, 23, 25, 26, 30, 32, 34, 35, 38];
var eHeat = heat(305, 217, 161, 174, eRows, eSeps);
legendStrip(305, 211, 161, 3.2, eGroups, eColors, 0);
eGeneLabels.forEach(function (g) {
	txt(287, 175 + g[1], g[0], 5, { align: 'right', color: '#444' });
	seg(288.5, 175 + g[1], 304.5, 175 + g[2], '#555', .4);
});
seg(305, 208, 401, 208, '#333', .6); seg(305, 208, 305, 210, '#333', .6); seg(401, 208, 401, 210, '#333', .6); seg(354, 207, 354, 209, '#333', .6);
seg(407, 208, 441, 208, '#333', .6); seg(407, 208, 407, 210, '#333', .6); seg(441, 208, 441, 210, '#333', .6); seg(424, 207, 424, 209, '#333', .6);
seg(442, 208, 465, 208, '#333', .6); seg(442, 208, 442, 210, '#333', .6); seg(465, 208, 465, 210, '#333', .6); seg(453, 207, 453, 209, '#333', .6);
txt(353, 204.5, 'Activated microglia', 5.4, { align: 'left', rot: .52, color: '#444' });
txt(402, 206.5, 'Homeostasis microglia', 5.4, { align: 'left', rot: .52, color: '#444' });
txt(423, 205, 'MDMs', 5.4, { align: 'left', rot: .52, color: '#444' });
txt(451, 204, 'PIs', 5.4, { align: 'left', rot: .52, color: '#444' });
txt(480.5, 273, 'Expression', 5.2);
exprBar(475.7, 278, 10, 47.7);
exprTicks.forEach(function (s, i) { txt(488, 284 + i * 9.2, s, 5, { align: 'left' }); });

var hSeps = [6, 10, 18, 23];
var hHeat = heat(310, 444, 102, 208, hRows, hSeps);
legendStrip(310, 437, 102, 4, hGroups, gColors, 0);
hGeneLabels.forEach(function (g) {
	txt(287.7, 415 + g[1], g[0], 6.8, { align: 'right', color: '#333' });
	seg(290, 415 + g[1], 309.5, 415 + g[2], '#666', .4);
});
box(288.6, 451.7, 1.3, 40.6, gColors[0]); box(288.6, 497.7, 1.3, 32, gColors[1]); box(288.6, 544.3, 1.3, 31.7, gColors[2]);
box(288.6, 590, 1.3, 23.7, gColors[3]); box(288.6, 623.3, 1.3, 14.4, gColors[4]);
var hTop = [320, 339, 361.5, 387, 404];
gNames.forEach(function (s, i) { txt(hTop[i], 436, s, 5.2, { align: 'left', rot: .52, color: '#444' }); });
txt(426.5, 509, 'Expression', 4.8);
exprBar(420.7, 515, 9.3, 47.3);
exprTicks.forEach(function (s, i) { txt(433, 519.7 + i * 9.35, s, 4.8, { align: 'left' }); });

// panel F
propBars(563, 200, 100, 192, fNames, [fHomeo, fActivated, fMDM, fPI, fOthers], fColors, 6);
propLegend(667.7, 268.7, fNames, 6.3);
txt(541, 294, 'Cell proportion', 6, { rot: Math.PI / 2 });
txt(637, 410, 'Recurrence', 6);

// panel G
var gk = addGrid(27, 442, 200, 204, tsneAxis(-11.4, 8.6, [-10, -5, 0, 5], 7.5), tsneAxis(-26.6, 24, [-20, -10, 0, 10, 20], 7.5));
[gClassical, gReactive, gProgenitors, gEarly1, gEarly2].forEach(function (l, c) {
	series.push({ type: 'scatter', name: gNames[c], xAxisIndex: gk, yAxisIndex: gk, silent: true, symbolSize: 4.6,
		itemStyle: { color: gColors[c] }, data: pairs(l) });
});
legend.push({ data: gNames, orient: 'vertical', left: 31, top: 601, icon: 'circle', itemWidth: 5, itemHeight: 5, itemGap: .01, padding: 0, selectedMode: false,
	textStyle: { fontSize: 7.5, height: 8.5, lineHeight: 8.5, color: '#333', fontFamily: FONT, padding: [0, 0, 0, -2] } });
txt(124, 436, 'TME Non-cancer astro-glia cell clustering', 8, { bold: true });
txt(127, 664, 'tSNE_1', 7); txt(5, 543, 'tSNE_2', 7, { rot: Math.PI / 2 });

// panel I
propBars(492.3, 448.7, 165, 181, gNames, [iClassical, iReactive, iProgenitors, iEarly1, iEarly2], gColors, 6);
propLegend(662, 537.4, gNames, 6.5);
txt(470, 539, 'Cell proportion', 6.3, { rot: Math.PI / 2 });
txt(614, 649, 'Recurrence', 6);

// panel letters
[['A', 8, 9], ['B', 379, 9], ['C', 567, 9], ['D', 9, 186], ['E', 252, 197], ['F', 528, 197], ['G', 9, 430], ['H', 252, 430], ['I', 471, 430]].forEach(function (p) {
	txt(p[1], p[2], p[0], 16.5, { color: '#111' });
});

var myChart = echarts.init(document.getElementById('main'));
myChart.setOption({
	animation: false,
	backgroundColor: '#fbfbfb',
	textStyle: { fontFamily: FONT },
	grid: grid, xAxis: xAxis, yAxis: yAxis, legend: legend, series: series,
	graphic: { elements: graphic },
	visualMap: [
		{ show: false, type: 'continuous', seriesIndex: [eHeat, hHeat], dimension: 2, min: -2, max: 2, inRange: { color: ['#8e4aa8', '#000000', '#e8e83c'] } },
		{ show: false, type: 'continuous', seriesIndex: dotSeries, dimension: 2, min: .5, max: 2.5, inRange: { color: ['#d8cccc', '#7f1416'] } }
	]
});
</script>
</body>
</html>
